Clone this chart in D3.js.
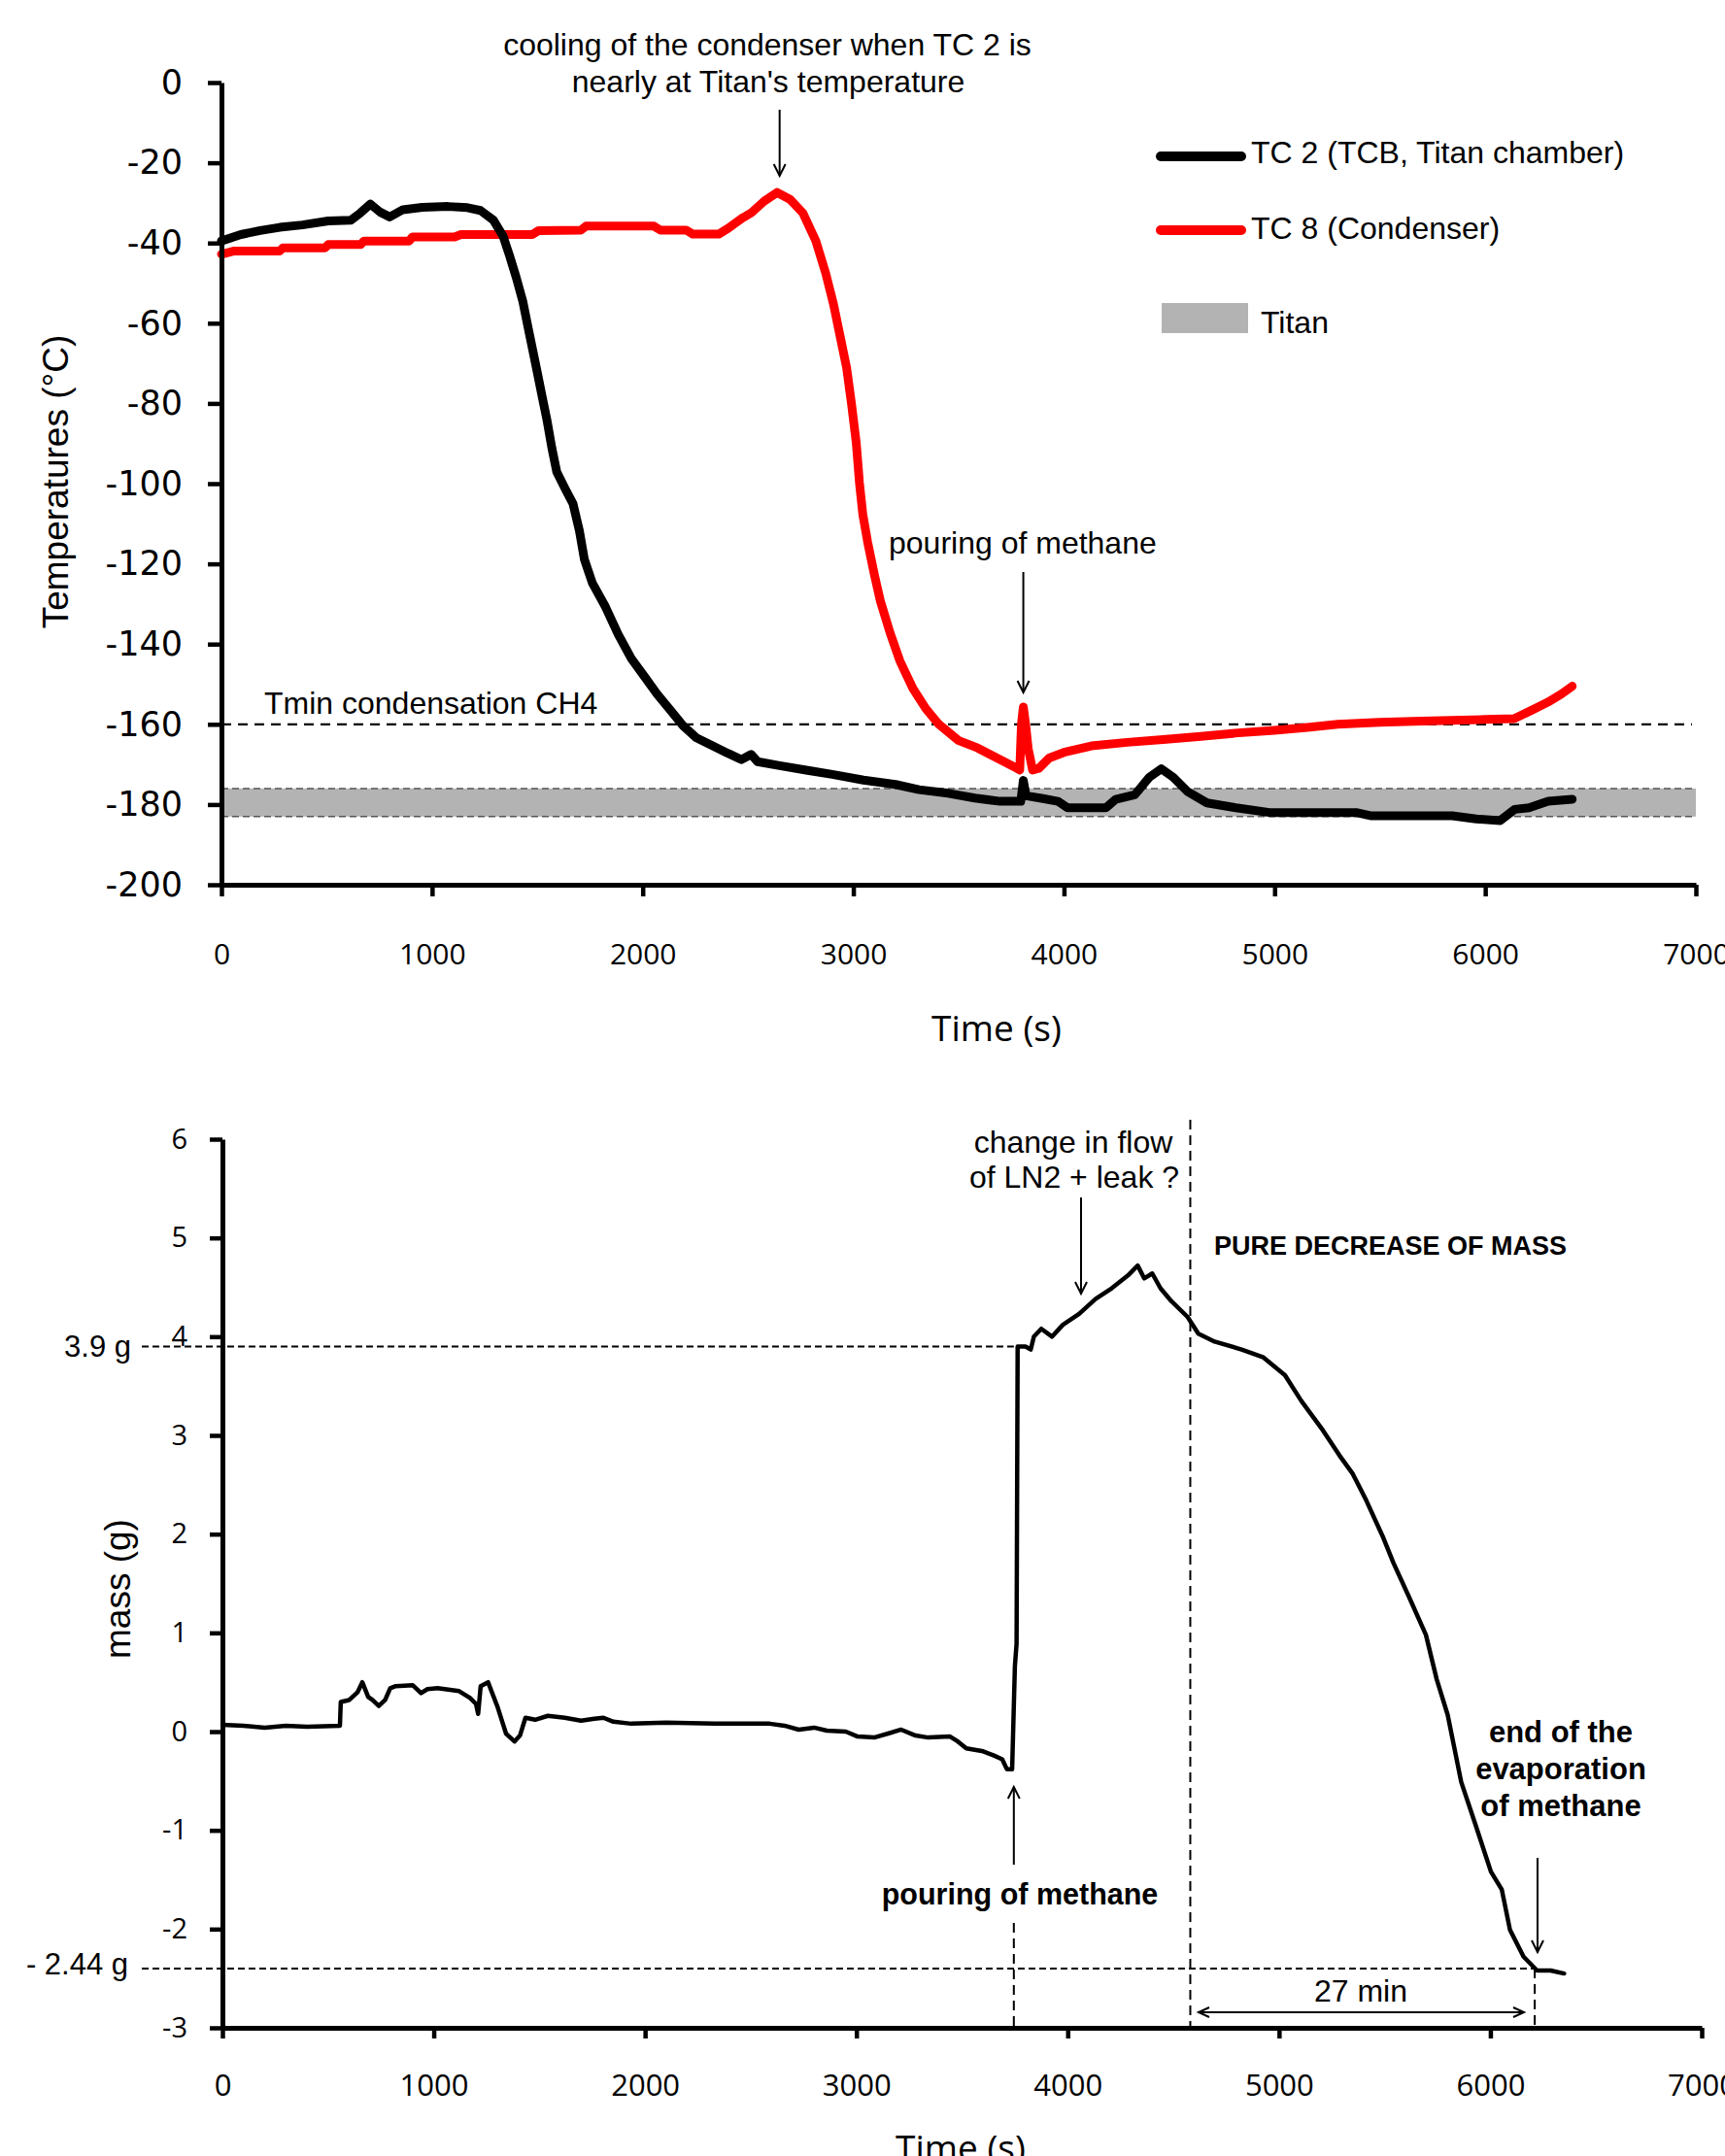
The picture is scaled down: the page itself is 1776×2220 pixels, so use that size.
<!DOCTYPE html>
<html><head><meta charset="utf-8">
<script src="https://cdn.jsdelivr.net/npm/d3@7"></script>
<style>body{margin:0;background:#fff} svg{display:block}</style>
</head><body>
<svg id="c" width="1776" height="2220"></svg>
<script>
// ---------------- DATA ----------------
const tempTicks = [0, -20, -40, -60, -80, -100, -120, -140, -160, -180, -200];
const timeTicks = [0, 1000, 2000, 3000, 4000, 5000, 6000, 7000];
const massTicks = [6, 5, 4, 3, 2, 1, 0, -1, -2, -3];

const tc2Time = [0,92,184,277,384,507,615,660,707,753,799,861,953,1076,1168,1230,1291,1337,1368,1400,1431,1454,1477,1500,1523,1546,1569,1592,1630,1669,1700,1723,1761,1823,1884,1946,2007,2069,2130,2192,2253,2330,2407,2469,2515,2545,2650,2783,2900,3048,3200,3312,3450,3577,3697,3795,3807,3820,3900,3971,4017,4200,4245,4336,4405,4462,4519,4587,4679,4816,4976,5387,5455,5843,5957,6071,6140,6208,6299,6413];
const tc2Temp = [-39.5,-37.9,-36.9,-36.1,-35.5,-34.5,-34.3,-32.5,-30.3,-32.3,-33.5,-31.7,-31.1,-30.9,-31.2,-31.9,-34.3,-38.3,-43.2,-48.7,-54.6,-60.6,-66.5,-72.4,-78.4,-84.3,-91.2,-97.1,-101.1,-105,-111.9,-118.9,-124.8,-130.7,-137.6,-143.6,-148,-152.5,-156.4,-160.4,-163.3,-165.3,-167.3,-168.8,-167.5,-169.3,-170.3,-171.5,-172.5,-173.9,-175,-176.3,-177.2,-178.4,-179.2,-179.2,-174,-177.8,-178.5,-179.2,-180.8,-180.8,-178.7,-177.6,-173.2,-171.1,-173.2,-176.8,-179.6,-180.8,-182,-182,-182.8,-182.8,-183.6,-184,-181.2,-180.8,-179.2,-178.7];

const tc8Time = [0,61,277,292,492,507,661,676,891,907,1107,1137,1476,1506,1706,1731,2053,2084,2207,2238,2361,2407,2469,2515,2576,2638,2699,2760,2822,2868,2906,2937,2968,2991,3014,3029,3045,3068,3099,3129,3175,3221,3283,3344,3406,3498,3590,3682,3760,3790,3798,3807,3818,3830,3851,3880,3930,4000,4130,4300,4471,4650,4813,5000,5156,5300,5498,5700,5840,6000,6137,6220,6297,6360,6413];
const tc8Temp = [-42.8,-42,-42,-41.2,-41.2,-40.4,-40.4,-39.5,-39.5,-38.5,-38.5,-37.9,-37.9,-36.9,-36.8,-35.8,-35.8,-36.8,-36.8,-37.8,-37.8,-36.3,-33.9,-32.5,-29.6,-27.4,-29.1,-32.5,-39.5,-47.4,-55.3,-63.2,-71.1,-80,-89.9,-99.8,-107.7,-114.6,-122.5,-129.4,-137.3,-144.2,-151.1,-156.1,-160,-164,-165.9,-168.4,-170.5,-171.4,-160,-155.7,-160,-166,-171.4,-171,-168.4,-167,-165.4,-164.5,-163.8,-163,-162.2,-161.5,-160.8,-160,-159.5,-159.2,-159,-158.8,-158.6,-156.5,-154.5,-152.5,-150.5];

const titanRange = [-183, -176];
const tminCH4 = -160;

const massTime = [0,100,200,300,400,556,560,600,640,662,690,710,740,770,794,820,900,940,970,1018,1120,1172,1200,1210,1222,1257,1302,1342,1382,1408,1434,1480,1540,1620,1697,1760,1803,1850,1935,2100,2330,2500,2590,2660,2727,2800,2860,2950,3006,3084,3150,3212,3280,3340,3443,3480,3520,3600,3648,3690,3712,3737,3750,3758,3763,3800,3825,3840,3875,3926,3977,4054,4131,4208,4285,4331,4362,4400,4439,4490,4567,4618,4695,4823,4926,5028,5105,5208,5285,5349,5413,5490,5541,5618,5695,5746,5798,5862,5926,6003,6054,6093,6157,6221,6285,6349];
const massValue = [0.07,0.06,0.04,0.06,0.05,0.06,0.30,0.32,0.40,0.50,0.35,0.32,0.26,0.32,0.44,0.46,0.47,0.39,0.43,0.44,0.41,0.34,0.28,0.18,0.46,0.50,0.25,-0.02,-0.10,-0.04,0.14,0.12,0.16,0.14,0.11,0.13,0.14,0.10,0.08,0.09,0.08,0.08,0.08,0.06,0.02,0.04,0.01,0.00,-0.05,-0.06,-0.02,0.02,-0.04,-0.06,-0.05,-0.10,-0.17,-0.20,-0.24,-0.28,-0.38,-0.38,0.66,0.89,3.90,3.90,3.87,4.00,4.08,4.00,4.12,4.23,4.38,4.49,4.62,4.72,4.59,4.64,4.49,4.36,4.20,4.03,3.95,3.87,3.79,3.61,3.35,3.05,2.80,2.61,2.34,1.98,1.71,1.35,0.98,0.53,0.17,-0.51,-0.92,-1.42,-1.60,-2.01,-2.28,-2.42,-2.42,-2.45];

const pouringTime = 3745;
const pureDecreaseTime = 4580;
const endEvapTime = 6210;
const massPoured = 3.9;
const massEnd = -2.4;

// ---------------- DRAW ----------------
const svg = d3.select('#c');
svg.append('rect').attr('width',1776).attr('height',2220).attr('fill','#fff');

const LIB = "'Liberation Sans', Arial, sans-serif";
const plain = d => String(d);

function arrowDown(g, x, y1, y2) {
  g.append('line').attr('x1',x).attr('x2',x).attr('y1',y1).attr('y2',y2).attr('stroke','#000').attr('stroke-width',2);
  g.append('path').attr('d',`M${x-6},${y2-12}L${x},${y2}L${x+6},${y2-12}`).attr('fill','none').attr('stroke','#000').attr('stroke-width',2);
}
function arrowUp(g, x, y1, y2) {
  g.append('line').attr('x1',x).attr('x2',x).attr('y1',y1).attr('y2',y2).attr('stroke','#000').attr('stroke-width',2);
  g.append('path').attr('d',`M${x-6},${y2+12}L${x},${y2}L${x+6},${y2+12}`).attr('fill','none').attr('stroke','#000').attr('stroke-width',2);
}

// ===== TOP CHART =====
const xT = d3.scaleLinear().domain([0,7000]).range([228,1746]);
const yT = d3.scaleLinear().domain([-200,0]).range([911,85]);
const gTop = svg.append('g');

gTop.append('rect').attr('x',xT(0)).attr('width',xT(7000)-xT(0))
  .attr('y',yT(titanRange[1])).attr('height',yT(titanRange[0])-yT(titanRange[1]))
  .attr('fill','#b3b3b3');
titanRange.forEach(v => gTop.append('line').attr('x1',xT(0)).attr('x2',xT(7000))
  .attr('y1',yT(v)).attr('y2',yT(v)).attr('stroke','#555').attr('stroke-width',1.5).attr('stroke-dasharray','7,4'));
gTop.append('line').attr('x1',xT(0)).attr('x2',xT(7000)-4).attr('y1',yT(tminCH4)).attr('y2',yT(tminCH4))
  .attr('stroke','#000').attr('stroke-width',2.2).attr('stroke-dasharray','10,7');

const lineT = d3.line().x(d=>xT(d[0])).y(d=>yT(d[1]));
gTop.append('path').datum(tc8Time.map((t,i)=>[t,tc8Temp[i]])).attr('d',lineT)
  .attr('fill','none').attr('stroke','#ff0000').attr('stroke-width',9).attr('stroke-linejoin','round').attr('stroke-linecap','round');
gTop.append('path').datum(tc2Time.map((t,i)=>[t,tc2Temp[i]])).attr('d',lineT)
  .attr('fill','none').attr('stroke','#000').attr('stroke-width',9).attr('stroke-linejoin','round').attr('stroke-linecap','round');

const yAxT = gTop.append('g').attr('transform',`translate(${xT(0)},0)`)
  .call(d3.axisLeft(yT).tickValues(tempTicks).tickSize(14).tickSizeOuter(0).tickPadding(26).tickFormat(plain));
const xAxT = gTop.append('g').attr('transform',`translate(0,${yT(-200)})`)
  .call(d3.axisBottom(xT).tickValues(timeTicks).tickSize(12).tickSizeOuter(0).tickPadding(49).tickFormat(plain));
[yAxT,xAxT].forEach(a=>{a.select('.domain').attr('stroke-width',5).attr('stroke','#000');a.selectAll('.tick line').attr('stroke-width',4.5).attr('stroke','#000');});
yAxT.selectAll('text').attr('font-family',"'DejaVu Sans', Verdana, sans-serif").attr('font-size',35).attr('fill','#000');
xAxT.selectAll('text').attr('font-family',"'Open Sans', sans-serif").attr('font-size',30).attr('fill','#000');

gTop.append('text').attr('x',1026).attr('y',1072).attr('text-anchor','middle')
  .attr('font-family',"'Open Sans', sans-serif").attr('font-size',37).text('Time (s)');
gTop.append('text').attr('transform','translate(70,496) rotate(-90)').attr('text-anchor','middle')
  .attr('font-family',LIB).attr('font-size',37).text('Temperatures (°C)');

gTop.append('text').attr('x',790).attr('y',57).attr('text-anchor','middle').attr('font-family',LIB).attr('font-size',32).text('cooling of the condenser when TC 2 is');
gTop.append('text').attr('x',791).attr('y',95).attr('text-anchor','middle').attr('font-family',LIB).attr('font-size',32).text("nearly at Titan's temperature");
arrowDown(gTop, xT(2650), 113, 181);
gTop.append('text').attr('x',915).attr('y',570).attr('font-family',LIB).attr('font-size',32).text('pouring of methane');
arrowDown(gTop, xT(3807), 589, 713);
gTop.append('text').attr('x',272).attr('y',735).attr('font-family',LIB).attr('font-size',32).text('Tmin condensation CH4');

const lg = gTop.append('g');
lg.append('line').attr('x1',1195).attr('x2',1278).attr('y1',161).attr('y2',161).attr('stroke','#000').attr('stroke-width',10).attr('stroke-linecap','round');
lg.append('text').attr('x',1288).attr('y',168).attr('font-family',LIB).attr('font-size',32).text('TC 2 (TCB, Titan chamber)');
lg.append('line').attr('x1',1195).attr('x2',1278).attr('y1',237).attr('y2',237).attr('stroke','#ff0000').attr('stroke-width',10).attr('stroke-linecap','round');
lg.append('text').attr('x',1288).attr('y',246).attr('font-family',LIB).attr('font-size',32).text('TC 8 (Condenser)');
lg.append('rect').attr('x',1196).attr('y',312).attr('width',89).attr('height',31).attr('fill','#b3b3b3');
lg.append('text').attr('x',1298).attr('y',343).attr('font-family',LIB).attr('font-size',32).text('Titan');

// ===== BOTTOM CHART =====
const xB = d3.scaleLinear().domain([0,7000]).range([229,1752]);
const yB = d3.scaleLinear().domain([-3,6]).range([2088,1173]);
const gBot = svg.append('g');

const dashH = '7,4', dashV = '10,6';
gBot.append('line').attr('x1',146).attr('x2',xB(pouringTime)).attr('y1',yB(massPoured)).attr('y2',yB(massPoured))
  .attr('stroke','#000').attr('stroke-width',2).attr('stroke-dasharray',dashH);
gBot.append('line').attr('x1',146).attr('x2',xB(endEvapTime)).attr('y1',yB(massEnd)).attr('y2',yB(massEnd))
  .attr('stroke','#000').attr('stroke-width',2).attr('stroke-dasharray',dashH);
gBot.append('line').attr('x1',xB(pureDecreaseTime)).attr('x2',xB(pureDecreaseTime)).attr('y1',1153).attr('y2',yB(-3))
  .attr('stroke','#000').attr('stroke-width',2).attr('stroke-dasharray',dashV);
gBot.append('line').attr('x1',xB(pouringTime)).attr('x2',xB(pouringTime)).attr('y1',1980).attr('y2',yB(-3))
  .attr('stroke','#000').attr('stroke-width',2).attr('stroke-dasharray',dashV);
gBot.append('line').attr('x1',xB(endEvapTime)).attr('x2',xB(endEvapTime)).attr('y1',yB(massEnd)).attr('y2',yB(-3))
  .attr('stroke','#000').attr('stroke-width',2).attr('stroke-dasharray',dashV);

const lineB = d3.line().x(d=>xB(d[0])).y(d=>yB(d[1]));
gBot.append('path').datum(massTime.map((t,i)=>[t,massValue[i]])).attr('d',lineB)
  .attr('fill','none').attr('stroke','#000').attr('stroke-width',4.5).attr('stroke-linejoin','round').attr('stroke-linecap','round');

const yAxB = gBot.append('g').attr('transform',`translate(${xB(0)},0)`)
  .call(d3.axisLeft(yB).tickValues(massTicks).tickSize(13).tickSizeOuter(0).tickPadding(23).tickFormat(plain));
const xAxB = gBot.append('g').attr('transform',`translate(0,${yB(-3)})`)
  .call(d3.axisBottom(xB).tickValues(timeTicks).tickSize(11).tickSizeOuter(0).tickPadding(37).tickFormat(plain));
[yAxB,xAxB].forEach(a=>{a.select('.domain').attr('stroke-width',5).attr('stroke','#000');a.selectAll('.tick line').attr('stroke-width',4.5).attr('stroke','#000');});
yAxB.selectAll('text').attr('font-family',"'Open Sans', sans-serif").attr('font-size',29).attr('fill','#000');
xAxB.selectAll('text').attr('font-family',"'Open Sans', sans-serif").attr('font-size',31).attr('fill','#000');

gBot.append('text').attr('x',989).attr('y',2225).attr('text-anchor','middle')
  .attr('font-family',"'Open Sans', sans-serif").attr('font-size',37).text('Time (s)');
gBot.append('text').attr('transform','translate(134,1636) rotate(-90)').attr('text-anchor','middle')
  .attr('font-family',LIB).attr('font-size',37).text('mass (g)');

gBot.append('text').attr('x',135).attr('y',1397).attr('text-anchor','end').attr('font-family',LIB).attr('font-size',31).text('3.9 g');
gBot.append('text').attr('x',132).attr('y',2033).attr('text-anchor','end').attr('font-family',LIB).attr('font-size',31).text('- 2.44 g');

gBot.append('text').attr('x',1105).attr('y',1187).attr('text-anchor','middle').attr('font-family',LIB).attr('font-size',32).text('change in flow');
gBot.append('text').attr('x',1106).attr('y',1223).attr('text-anchor','middle').attr('font-family',LIB).attr('font-size',32).text('of LN2 + leak ?');
arrowDown(gBot, 1113, 1233, 1332);
gBot.append('text').attr('x',1250).attr('y',1292).attr('font-family',LIB).attr('font-weight','bold').attr('font-size',27).text('PURE DECREASE OF MASS');

gBot.append('text').attr('x',1050).attr('y',1961).attr('text-anchor','middle').attr('font-family',LIB).attr('font-weight','bold').attr('font-size',30.5).text('pouring of methane');
arrowUp(gBot, xB(pouringTime), 1920, 1840);

['end of the','evaporation','of methane'].forEach((s,i)=>
  gBot.append('text').attr('x',1607).attr('y',[1794,1832,1870][i]).attr('text-anchor','middle').attr('font-family',LIB).attr('font-weight','bold').attr('font-size',31).text(s));
arrowDown(gBot, 1583, 1913, 2010);

const ya = 2072, xa1 = 1234, xa2 = 1569;
gBot.append('line').attr('x1',xa1).attr('x2',xa2).attr('y1',ya).attr('y2',ya).attr('stroke','#000').attr('stroke-width',2);
gBot.append('path').attr('d',`M${xa1+11},${ya-5}L${xa1},${ya}L${xa1+11},${ya+5}`).attr('fill','none').attr('stroke','#000').attr('stroke-width',2);
gBot.append('path').attr('d',`M${xa2-11},${ya-5}L${xa2},${ya}L${xa2-11},${ya+5}`).attr('fill','none').attr('stroke','#000').attr('stroke-width',2);
gBot.append('text').attr('x',1401).attr('y',2061).attr('text-anchor','middle').attr('font-family',LIB).attr('font-size',32).text('27 min');
</script>
</body></html>
